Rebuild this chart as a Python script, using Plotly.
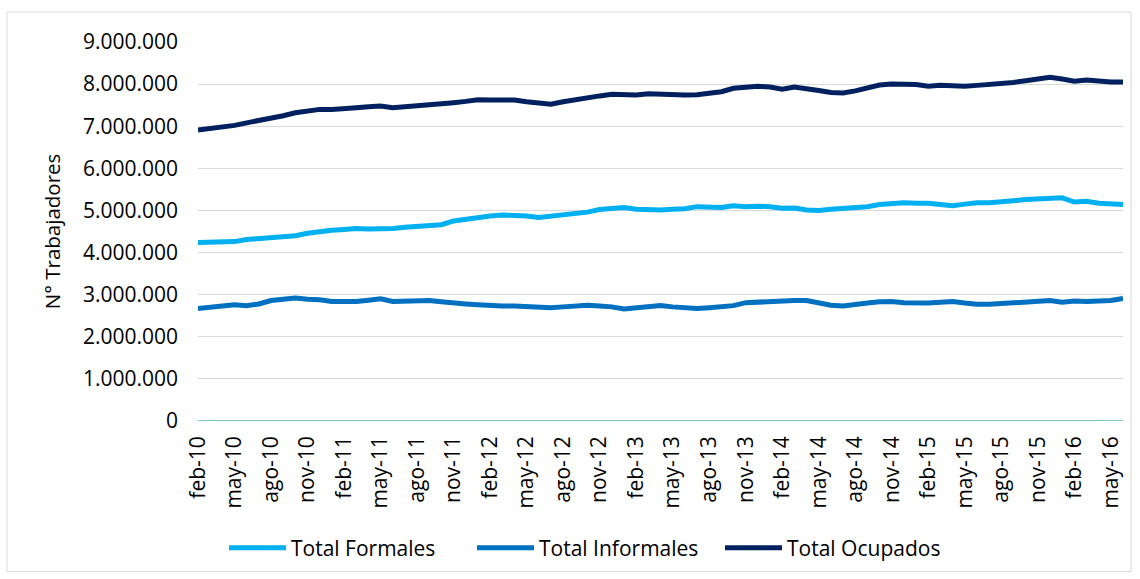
import plotly.graph_objects as go

meses = ["ene", "feb", "mar", "abr", "may", "jun", "jul", "ago", "sep", "oct", "nov", "dic"]
periodos = []
for k in range(77):
    m = (1 + k) % 12
    y = 10 + (1 + k) // 12
    periodos.append(f"{meses[m]}-{y:02d}")

ocupados = [6.91, 6.95, 6.96, 7.02, 7.08, 7.13, 7.20, 7.25, 7.32, 7.37, 7.40, 7.40, 7.41, 7.44, 7.46, 7.48,
            7.44, 7.46, 7.48, 7.50, 7.52, 7.56, 7.59, 7.63, 7.62, 7.62, 7.62, 7.58, 7.54, 7.52, 7.58, 7.63,
            7.69, 7.72, 7.76, 7.75, 7.74, 7.77, 7.76, 7.74, 7.74, 7.75, 7.78, 7.82, 7.90, 7.93, 7.95, 7.93,
            7.88, 7.93, 7.90, 7.85, 7.80, 7.79, 7.84, 7.90, 7.98, 8.00, 7.99, 7.99, 7.95, 7.97, 7.96, 7.95,
            7.97, 7.99, 8.02, 8.04, 8.08, 8.13, 8.16, 8.12, 8.07, 8.10, 8.06, 8.05, 8.05]
formales = [4.24, 4.24, 4.24, 4.26, 4.31, 4.33, 4.35, 4.37, 4.40, 4.46, 4.51, 4.53, 4.55, 4.57, 4.56, 4.56,
            4.57, 4.60, 4.62, 4.62, 4.66, 4.75, 4.80, 4.85, 4.87, 4.89, 4.89, 4.87, 4.83, 4.86, 4.89, 4.92,
            4.96, 5.02, 5.06, 5.07, 5.03, 5.02, 5.01, 5.03, 5.04, 5.09, 5.08, 5.07, 5.11, 5.09, 5.10, 5.09,
            5.05, 5.06, 5.01, 5.00, 5.03, 5.05, 5.08, 5.09, 5.14, 5.17, 5.18, 5.17, 5.17, 5.14, 5.11, 5.15,
            5.18, 5.18, 5.22, 5.23, 5.26, 5.28, 5.30, 5.30, 5.20, 5.22, 5.17, 5.16, 5.14]
informales = [2.67, 2.70, 2.71, 2.76, 2.74, 2.78, 2.86, 2.88, 2.92, 2.89, 2.88, 2.84, 2.84, 2.84, 2.87, 2.90,
              2.84, 2.85, 2.86, 2.86, 2.83, 2.79, 2.78, 2.76, 2.74, 2.73, 2.73, 2.71, 2.70, 2.69, 2.71, 2.73,
              2.75, 2.73, 2.71, 2.66, 2.69, 2.72, 2.74, 2.71, 2.69, 2.67, 2.69, 2.73, 2.74, 2.81, 2.83, 2.83,
              2.85, 2.86, 2.86, 2.80, 2.75, 2.73, 2.75, 2.80, 2.83, 2.84, 2.81, 2.80, 2.80, 2.82, 2.84, 2.80,
              2.77, 2.77, 2.79, 2.80, 2.82, 2.86, 2.86, 2.82, 2.85, 2.84, 2.86, 2.86, 2.91]

y_ticks = [0, 1000000, 2000000, 3000000, 4000000, 5000000, 6000000, 7000000, 8000000, 9000000]
y_labels = ["0", "1.000.000", "2.000.000", "3.000.000", "4.000.000", "5.000.000",
            "6.000.000", "7.000.000", "8.000.000", "9.000.000"]
x_ticks = periodos[::3]

FONT = "Open Sans"
FS = 21
fig = go.Figure()
series = [("Total Formales", formales, "#00B0F0"),
          ("Total Informales", informales, "#0070C0"),
          ("Total Ocupados", ocupados, "#002060")]
for name, vals, col in series:
    fig.add_trace(go.Scatter(x=periodos, y=[v * 1e6 for v in vals], mode="lines", name=name,
                             line=dict(color=col, width=5)))

L, R, T, B = 198, 17, 42, 157
W, H = 1140, 579
pw, ph = W - L - R, H - T - B
fig.update_layout(
    width=W, height=H,
    margin=dict(l=L, r=R, t=T, b=B),
    paper_bgcolor="white", plot_bgcolor="white",
    font=dict(family=FONT, size=FS, color="#000000"),
    showlegend=True,
    legend=dict(orientation="h", x=(596 - L) / pw, xanchor="center", y=-0.332, yanchor="middle",
                font=dict(size=FS, family=FONT), itemwidth=57, traceorder="normal",
                entrywidth=176, entrywidthmode="pixels"),
    xaxis=dict(type="category", tickmode="array", tickvals=x_ticks, ticktext=x_ticks,
               tickangle=-90, showgrid=False, showline=False, ticks="", zeroline=False,
               ticklabelstandoff=10, automargin=False,
               tickfont=dict(size=FS, family=FONT)),
    yaxis=dict(range=[0, 9000000], tickvals=y_ticks, ticktext=y_labels,
               showgrid=True, gridcolor="#D9D9D9", gridwidth=1.3, zeroline=False,
               showline=False, ticks="", ticklabelstandoff=19, automargin=False,
               tickfont=dict(size=FS, family=FONT),
               title=dict(text="N° Trabajadores", font=dict(size=20.5, family=FONT), standoff=16)),
    shapes=[
        dict(type="line", xref="paper", yref="y", x0=0, x1=1, y0=0, y1=0,
             line=dict(color="#5AB9B2", width=1.5)),
        dict(type="rect", xref="paper", yref="paper",
             x0=(7 - L) / pw, x1=(1131 - L) / pw, y0=(H - B - 573) / ph, y1=(H - B - 12) / ph,
             line=dict(color="#D9D9D9", width=1)),
    ],
)
fig.write_html("out.html", config={"displayModeBar": False},
               post_script="document.body.style.margin='0';")
